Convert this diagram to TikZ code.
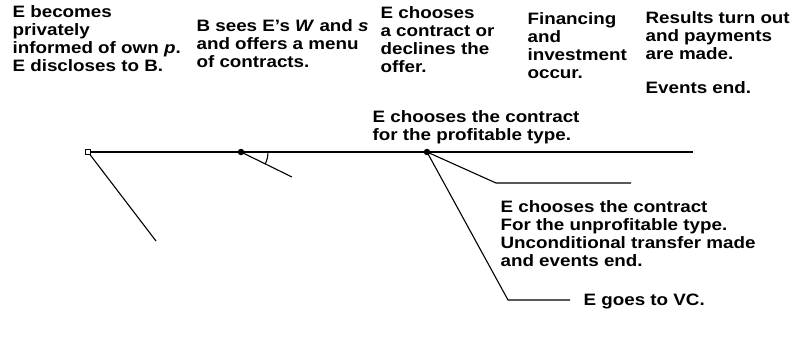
\documentclass[tikz,border=0pt]{standalone}
\usepackage{fontspec}
\setmainfont{Liberation Sans}[FakeStretch=1.14]
\begin{document}
\begin{tikzpicture}[x=1pt,y=-1pt,line width=1.1pt,
  txt/.style={anchor=base west,inner sep=0pt,align=left,font=\fontsize{16.5}{18}\selectfont\bfseries},
  dotnode/.style={circle,fill,inner sep=0pt,minimum size=6.5pt},
  opennode/.style={rectangle,draw,fill=white,inner sep=0pt,minimum size=5pt,line width=1pt}]
\useasboundingbox (0,0) rectangle (793,343);
% nodes on the time line
\node[opennode] (n0) at (88,152) {};
\node[dotnode] (n1) at (241,152) {};
\node[dotnode] (n2) at (427,152) {};
\coordinate (lineend) at (693,152);
\coordinate (a0) at (156,241);
\coordinate (a1) at (292,177);
\coordinate (b1) at (496,183);
\coordinate (b1e) at (631,183);
\coordinate (c1) at (508,300);
\coordinate (c1e) at (570,300);
% connectors
\draw (n0.east) -- (n1.center) -- (n2.center) -- (lineend);
\draw (n0) -- (a0);
\draw (n1.center) -- (a1);
\draw (n1.center) ++(27,0) arc[start angle=0,end angle=26,radius=27];
\draw (n2.center) -- (b1) -- (b1e);
\draw (n2.center) -- (c1) -- (c1e);
% texts (anchored at the baseline of their last line)
\node[txt] (t1) at (12,71.5) {E becomes\\privately\\informed of own \textit{p}.\\E discloses to B.};
\node[txt] (t2) at (196,67) {B sees E’s \textit{W} and \textit{s}\\and offers a menu\\of contracts.};
\node[txt] (t3) at (380,72) {E chooses\\a contract or\\declines the\\offer.};
\node[txt] (t4) at (527,78.5) {Financing\\and\\investment\\occur.};
\node[txt] (t5) at (645,93) {Results turn out\\and payments\\are made.\\[16pt]Events end.};
\node[txt] (t6) at (372,140) {E chooses the contract\\for the profitable type.};
\node[txt] (t7) at (500,266) {E chooses the contract\\For the unprofitable type.\\Unconditional transfer made\\and events end.};
\node[txt] (t8) at (583,305) {E goes to VC.};
\end{tikzpicture}
\end{document}
